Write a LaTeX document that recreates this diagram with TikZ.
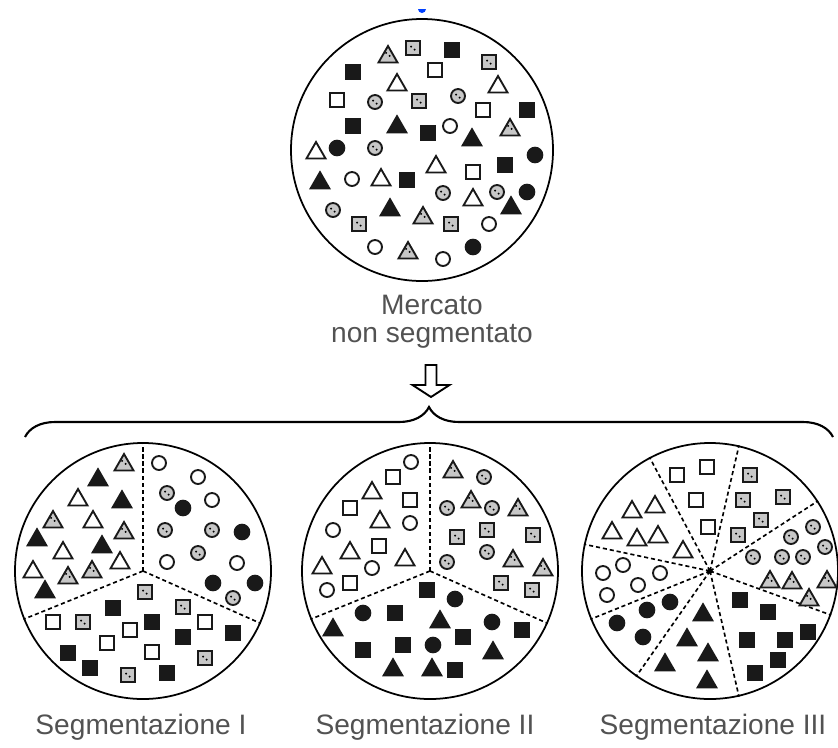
\documentclass[tikz,border=0pt]{standalone}
\usepackage{fontspec}
\setmainfont{Liberation Sans}
\usetikzlibrary{positioning,shapes.geometric,decorations.pathreplacing}
\tikzset{
  bigdisc/.style={draw, circle, line width=1.5pt, inner sep=0pt, minimum size=7.68cm},
  caption/.style={font=\fontsize{24}{28}\selectfont, text=black!68, anchor=base, inner sep=0pt},
  divider/.style={line width=1.4pt, dash pattern=on 3.5pt off 2.5pt},
  bracket/.style={decorate, decoration={brace, amplitude=0.9cm}, line width=1.8pt},
  downarrow/.style={draw, line width=1.6pt, fill=white, line join=miter},
  speckle/.style={path picture={\fill[black]
      ([shift={(-1.6pt,1.2pt)}]path picture bounding box.center) circle (0.9pt)
      ([shift={(1.4pt,-1.4pt)}]path picture bounding box.center) circle (0.9pt);}},
  symbase/.style={inner sep=0pt, outer sep=0pt, line width=1.6pt},
  fsq/.style={symbase, rectangle, fill=black!90, minimum size=0.48cm},
  hsq/.style={symbase, rectangle, draw=black!90, fill=white, minimum size=0.42cm},
  dsq/.style={symbase, rectangle, draw=black!90, fill=black!22, minimum size=0.42cm, speckle},
  ftri/.style={symbase, regular polygon, regular polygon sides=3, fill=black!90, minimum size=0.76cm},
  htri/.style={symbase, regular polygon, regular polygon sides=3, draw=black!90, fill=white, minimum size=0.66cm},
  dtri/.style={symbase, regular polygon, regular polygon sides=3, draw=black!90, fill=black!22, minimum size=0.66cm, speckle},
  fcirc/.style={symbase, circle, fill=black!90, minimum size=0.5cm},
  hcirc/.style={symbase, circle, draw=black!90, fill=white, minimum size=0.42cm},
  dcirc/.style={symbase, circle, draw=black!90, fill=black!22, minimum size=0.42cm, speckle}
}

\begin{document}
\begin{tikzpicture}[x=0.03cm, y=-0.03cm]
  \useasboundingbox (0,0) rectangle (838,747);
  % blue mark at the top edge
  \fill[blue!75!cyan] (418,9) arc[start angle=180, end angle=360, radius=0.12cm] -- cycle;

  % unsegmented market
  \node[bigdisc, minimum size=7.86cm] (market) at (422,150) {};
  \foreach \s/\x/\y [count=\i] in {dtri/388/57, dsq/413/48, fsq/452/50, dsq/489/62, fsq/353/72,
      hsq/435/70, htri/397/85, htri/498/87, hsq/337/100, dcirc/375/102, dsq/419/101, dcirc/458/96,
      hsq/483/110, fsq/527/110, fsq/353/126, ftri/397/127, fsq/428/133, hcirc/450/126, dtri/510/130,
      ftri/472/140, htri/316/153, fcirc/337/148, dcirc/375/148, fcirc/535/155, htri/436/167,
      hsq/473/172, fsq/505/165, ftri/320/183, hcirc/352/179, htri/381/180, fsq/407/180,
      dcirc/443/193, htri/473/200, dcirc/497/192, fcirc/527/192, ftri/511/208, dcirc/333/210,
      ftri/390/210, dtri/423/218, dsq/359/224, dsq/451/224, hcirc/489/224, hcirc/375/247,
      dtri/408/253, hcirc/443/259, fcirc/473/247}
    \node[\s] (t\i) at (\x,\y) {};
  \node[caption] (mercato) at (432,314) {Mercato};
  \node[caption] (nonseg) at (432,342) {non segmentato};

  % arrow and brace
  \coordinate (arrtop) at (431,365);
  \draw[downarrow] (arrtop) ++(-5.5,0) -- ++(0,20) -- ++(-13,0) -- ++(18.5,12)
    -- ++(18.5,-12) -- ++(-13,0) -- ++(0,-20) -- cycle;
  \coordinate (bl) at (25,437);
  \coordinate (br) at (833,437);
  \draw[bracket] (bl) -- (br);

  % segmentation I
  \node[bigdisc] (seg1) at (143,571) {};
  \foreach \a in {90,202,-24} \draw[divider] (seg1.center) -- (seg1.\a);
  \foreach \s/\x/\y [count=\i] in {dtri/124/465, ftri/98/480, htri/78/500, ftri/122/502,
      dtri/53/522, htri/93/522, dtri/124/533, ftri/37/540, htri/63/553, ftri/102/547,
      htri/33/572, dtri/68/578, dtri/92/572, htri/120/563, ftri/45/592,
      hcirc/159/463, hcirc/198/477, dcirc/167/493, fcirc/183/508, hcirc/212/500, dcirc/165/530,
      dcirc/212/530, fcirc/242/532, dcirc/198/553, hcirc/167/562, hcirc/237/563, fcirc/213/583,
      fcirc/255/583, dcirc/233/598,
      dsq/145/592, hsq/53/622, dsq/83/622, fsq/113/608, fsq/152/622, hsq/130/630, dsq/183/607,
      hsq/205/622, fsq/183/637, fsq/233/633, hsq/107/643, hsq/152/652, fsq/68/653, fsq/90/668,
      dsq/128/675, fsq/167/673, dsq/205/658}
    \node[\s] (a\i) at (\x,\y) {};

  % segmentation II
  \node[bigdisc] (seg2) at (430,571) {};
  \foreach \a in {90,202,-24} \draw[divider] (seg2.center) -- (seg2.\a);
  \foreach \s/\x/\y [count=\i] in {hcirc/411/462, hsq/393/477, htri/372/493, hsq/410/500,
      hsq/350/508, htri/380/522, hcirc/410/523, hcirc/333/530, hsq/379/546, htri/350/553,
      hcirc/372/568, htri/405/560, htri/322/568, hsq/350/583, hcirc/327/590,
      dtri/453/472, dcirc/484/477, dcirc/447/508, dtri/471/502, dcirc/492/508, dtri/518/510,
      dsq/487/530, dsq/457/537, dsq/533/535, dcirc/487/552, dcirc/447/562, dtri/513/561,
      dtri/543/570, dsq/501/583, dsq/532/590,
      fsq/427/590, fcirc/455/599, fcirc/363/613, fsq/395/613, ftri/333/630, ftri/440/622,
      fcirc/492/622, fsq/522/630, fsq/463/637, fsq/363/650, fsq/403/645, fcirc/433/645,
      ftri/493/653, ftri/393/670, ftri/432/670, fsq/455/670}
    \node[\s] (b\i) at (\x,\y) {};

  % segmentation III
  \node[bigdisc] (seg3) at (710,571) {};
  \foreach \a in {118,77,33,-20,-77,-125,202,168} \draw[divider] (seg3.center) -- (seg3.\a);
  \fill (seg3.center) circle (2.4pt);
  \foreach \s/\x/\y [count=\i] in {hsq/677/475, hsq/707/467, hsq/696/500, hsq/708/527,
      dsq/750/475, dsq/743/500, dsq/783/497, dsq/761/520, dsq/738/535,
      dcirc/813/527, dcirc/791/537, dcirc/825/547, dcirc/753/557, dcirc/782/557, dcirc/803/557,
      dtri/770/582, dtri/792/583, dtri/827/582, dtri/809/600,
      fsq/740/600, fsq/768/612, fsq/808/632, fsq/747/640, fsq/785/640, fsq/778/660, fsq/755/673,
      ftri/703/615, ftri/687/640, ftri/708/655, ftri/665/665, ftri/707/682,
      fcirc/670/602, fcirc/647/610, fcirc/617/623, fcirc/643/637,
      hcirc/623/565, hcirc/603/573, hcirc/638/585, hcirc/660/573, hcirc/607/595,
      htri/632/512, htri/655/507, htri/612/533, htri/637/540, htri/658/537, htri/683/552}
    \node[\s] (c\i) at (\x,\y) {};

  \node[caption] (cap1) at (141,734) {Segmentazione I};
  \node[caption] (cap2) at (425,734) {Segmentazione II};
  \node[caption] (cap3) at (713,734) {Segmentazione III};
\end{tikzpicture}
\end{document}
